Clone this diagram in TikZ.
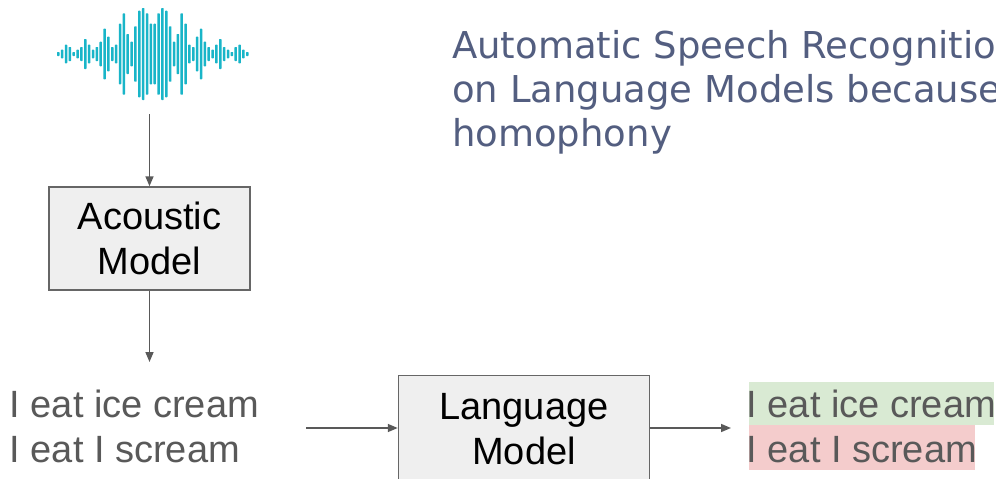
\documentclass[tikz,border=0pt]{standalone}
\usepackage{fontspec}
\setmainfont{Liberation Sans}
\newfontfamily\titlefont{DejaVu Sans}
\usetikzlibrary{arrows.meta}

\definecolor{wavecol}{RGB}{25,181,200}
\definecolor{arrcol}{RGB}{89,89,89}
\definecolor{boxline}{RGB}{102,102,102}
\definecolor{boxfill}{RGB}{239,239,239}
\definecolor{hypcol}{RGB}{89,89,89}
\definecolor{titlecol}{RGB}{83,94,128}
\definecolor{okfill}{RGB}{217,234,211}
\definecolor{badfill}{RGB}{244,204,204}

\begin{document}
\begin{tikzpicture}[x=1pt,y=-1pt,
  modelbox/.style={draw=boxline, fill=boxfill, line width=1.5pt, align=center,
    inner sep=0pt, text=black, font=\fontsize{38}{45}\selectfont},
  arr/.style={draw=arrcol, line width=1.5pt, -{Triangle[length=10pt,width=8pt]}},
  hyp/.style={anchor=base west, inner sep=0pt, text=hypcol, font=\fontsize{38}{45}\selectfont},
  titleline/.style={anchor=base west, inner sep=0pt, text=titlecol, font=\titlefont\fontsize{37}{44}\selectfont}]

\clip (0,0) rectangle (996,479);
\fill[white] (0,0) rectangle (996,479);

% sound waveform: 50 vertical bars around y = 54
\foreach \h [count=\i from 0] in {2,4.3,9.3,7,2,4.3,7,15,9.3,4.3,7,12.3,25.3,17.3,7,9.3,30.3,40.7,20,12.3,27.7,43.3,46,40.7,30.3,30.3,40.7,46,43.3,27.7,12.3,20,40.7,30.3,9.3,7,17.3,25.3,12.3,7,4.3,9.3,15,7,4.3,2,7,9.3,4.3,2}
  \fill[wavecol, rounded corners=0.6pt] ({58.3+\i*3.857-1.25},{54-\h}) rectangle ({58.3+\i*3.857+1.25},{54+\h});

% title text (runs past the right edge)
\node[titleline] (t1) at (452,58) {Automatic Speech Recognition};
\node[titleline] (t2) at (452,102) {on Language Models because};
\node[titleline] (t3) at (452,146) {homophony};

% models
\node[modelbox, minimum width=201pt, minimum height=103pt] (am) at (149.5,238.5) {Acoustic\\Model};
\node[modelbox, minimum width=251pt, minimum height=108pt] (lm) at (524,429.5) {Language\\Model};

% candidate transcriptions
\node[hyp] (h1) at (9.5,417) {I eat ice cream};
\node[hyp] (h2) at (9.5,462) {I eat I scream};

% rescored output with highlights
\fill[okfill] (749,382) rectangle (994,425);
\fill[badfill] (749,425) rectangle (975,470);
\node[hyp] (o1) at (746.5,417) {I eat ice cream};
\node[hyp] (o2) at (746.5,462) {I eat I scream};

% connectors
\coordinate (wbot) at (149.5,114);
\coordinate (amend) at (149.5,362);
\coordinate (lmin) at (306,428);
\coordinate (lmout) at (731,428);
\draw[arr] (wbot) -- (am.north);
\draw[arr] (am.south) -- (amend);
\draw[arr] (lmin) -- (lmin -| lm.west);
\draw[arr] (lm.east |- lmout) -- (lmout);
\end{tikzpicture}
\end{document}
